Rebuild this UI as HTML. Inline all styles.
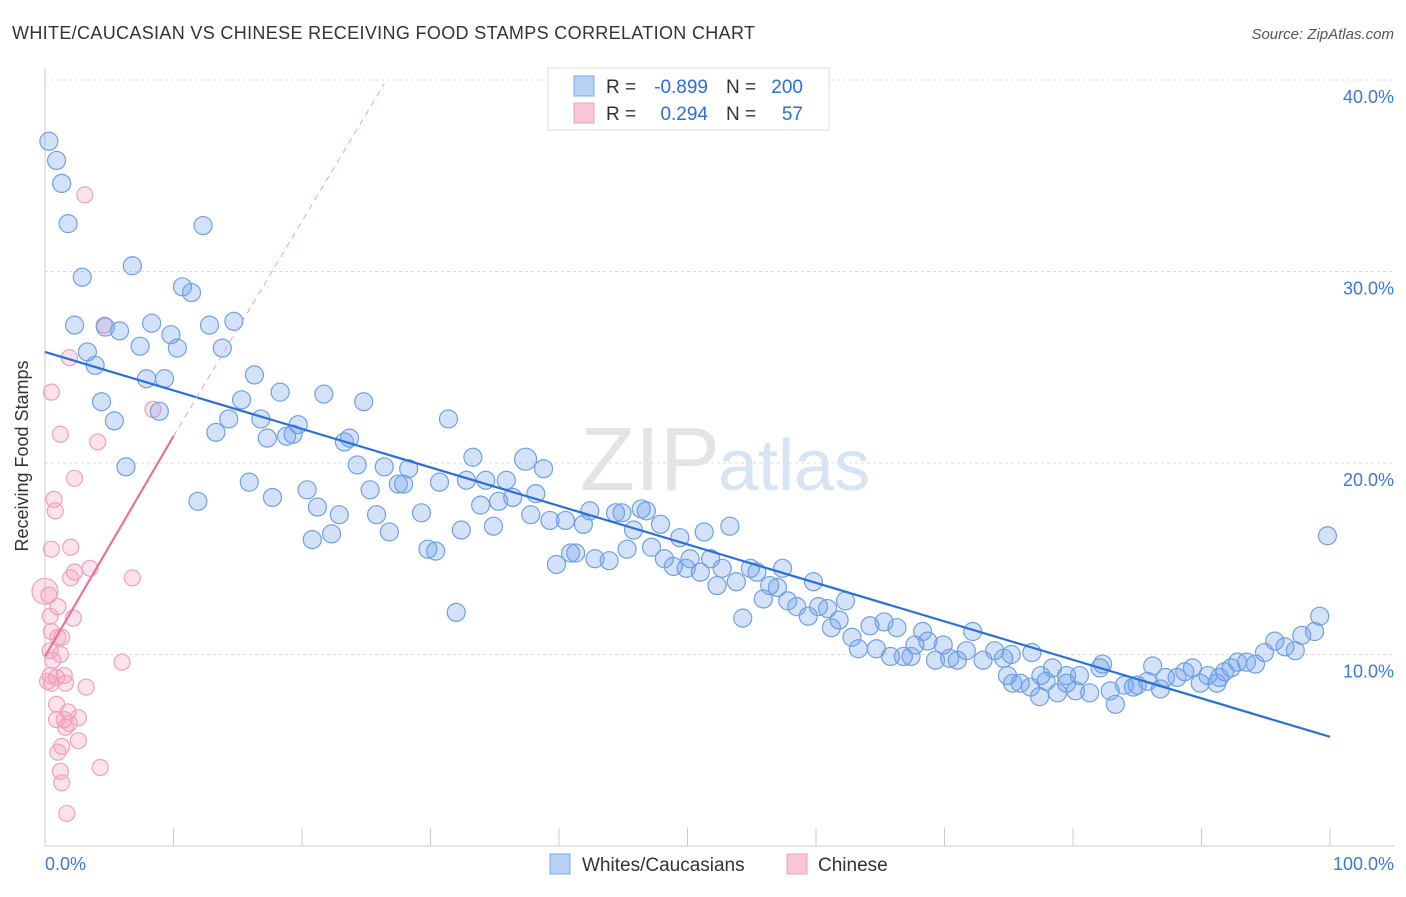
<!DOCTYPE html>
<html><head><meta charset="utf-8"><style>
body{margin:0;background:#fff;font-family:"Liberation Sans",sans-serif;}
svg text{font-family:"Liberation Sans",sans-serif;}
</style></head><body>
<svg width="1406" height="892" viewBox="0 0 1406 892" xmlns="http://www.w3.org/2000/svg">
<text x="12" y="39" font-size="18" fill="#333" textLength="743">WHITE/CAUCASIAN VS CHINESE RECEIVING FOOD STAMPS CORRELATION CHART</text>
<text x="1394" y="39" font-size="15" fill="#555" text-anchor="end" font-style="italic">Source: ZipAtlas.com</text>
<g id="grid"></g>
<text x="720" y="490" font-size="90" fill="#e4e4e4" text-anchor="end" font-family="Liberation Serif">ZIP</text>
<text x="718" y="490" font-size="72" fill="#d6e4f5">atlas</text>
<g id="ticks"></g>
<text x="28" y="456" font-size="18" fill="#333" text-anchor="middle" transform="rotate(-90 28 456)">Receiving Food Stamps</text>
<g id="pink"></g>
<g id="blue"></g>
<g id="trends"></g>
<g>
<rect x="548" y="68" width="281" height="62" fill="#fff" stroke="#ddd"/>
<rect x="574" y="76" width="20" height="20" fill="#b8d3f5" stroke="#7aaae6"/>
<rect x="574" y="103" width="20" height="20" fill="#f9c6d6" stroke="#f0a0bb"/>
<text x="606" y="93" font-size="19" fill="#333">R =</text>
<text x="708" y="93" font-size="19" fill="#2a6ed8" text-anchor="end">-0.899</text>
<text x="726" y="93" font-size="19" fill="#333">N =</text>
<text x="803" y="93" font-size="19" fill="#2a6ed8" text-anchor="end">200</text>
<text x="606" y="120" font-size="19" fill="#333">R =</text>
<text x="708" y="120" font-size="19" fill="#2a6ed8" text-anchor="end">0.294</text>
<text x="726" y="120" font-size="19" fill="#333">N =</text>
<text x="803" y="120" font-size="19" fill="#2a6ed8" text-anchor="end">57</text>
</g>
<g>
<rect x="550" y="854" width="20" height="20" fill="#b8d3f5" stroke="#7aaae6"/>
<text x="582" y="871" font-size="19" fill="#333">Whites/Caucasians</text>
<rect x="787" y="854" width="20" height="20" fill="#f9c6d6" stroke="#f0a0bb"/>
<text x="818" y="871" font-size="19" fill="#333">Chinese</text>
</g>
<text x="45" y="870" font-size="18" fill="#3b78d8">0.0%</text>
<text x="1394" y="870" font-size="18" fill="#3b78d8" text-anchor="end">100.0%</text>
</svg>
<script>
const yTicks=[10,20,30,40];
const yTickLabels=["10.0%","20.0%","30.0%","40.0%"];
const xTicks=[0,10,20,30,40,50,60,70,80,90,100];
const blueX=[0.3,0.9,1.3,1.8,2.9,6.8,12.3,10.7,11.4,2.3,4.7,5.8,8.3,9.8,12.8,14.7,3.3,7.4,10.3,13.8,3.9,7.9,9.3,16.3,4.4,8.9,5.4,15.3,18.3,21.7,24.8,14.3,16.8,19.7,31.4,13.3,17.3,18.8,19.3,23.3,23.7,6.3,15.9,11.9,17.7,20.4,24.3,25.3,26.4,27.5,27.9,28.3,30.7,33.3,32.8,34.3,35.9,37.4,38.8,38.2,36.4,35.3,33.9,21.2,22.9,25.8,29.3,37.8,39.3,40.5,41.9,42.4,44.4,44.9,46.4,46.8,45.8,47.9,51.3,53.3,32.4,34.9,20.8,22.3,26.8,29.8,30.4,45.3,47.2,49.4,40.9,41.3,42.8,43.9,39.8,48.2,50.2,51.8,48.9,49.9,51.0,52.7,54.9,55.4,57.4,52.3,53.8,56.4,57.0,59.8,55.9,57.8,58.5,60.2,60.9,62.3,59.4,61.8,64.2,65.3,66.3,54.3,61.2,62.8,68.3,72.2,63.3,64.7,67.7,68.7,69.9,71.7,73.9,76.8,65.8,66.8,67.4,69.3,70.4,71.0,73.0,74.6,75.2,78.4,82.1,82.3,74.9,77.5,79.5,80.5,75.3,75.9,77.9,79.5,86.2,88.7,89.3,90.5,91.8,92.3,92.8,93.5,94.2,94.9,95.7,96.5,97.3,97.8,98.8,99.2,99.8,76.7,78.8,77.4,80.2,81.3,82.9,84.0,85.0,85.8,86.8,87.2,88.1,89.9,91.2,83.3,84.7,91.4,32.0];
const blueY=[36.8,35.8,34.6,32.5,29.7,30.3,32.4,29.2,28.9,27.2,27.1,26.9,27.3,26.7,27.2,27.4,25.8,26.1,26.0,26.0,25.1,24.4,24.4,24.6,23.2,22.7,22.2,23.3,23.7,23.6,23.2,22.3,22.3,22.0,22.3,21.6,21.3,21.4,21.5,21.1,21.3,19.8,19.0,18.0,18.2,18.6,19.9,18.6,19.8,18.9,18.9,19.7,19.0,20.3,19.1,19.1,19.1,20.2,19.7,18.4,18.2,18.0,17.8,17.7,17.3,17.3,17.4,17.3,17.0,17.0,16.8,17.5,17.4,17.4,17.6,17.5,16.5,16.8,16.4,16.7,16.5,16.7,16.0,16.3,16.4,15.5,15.4,15.5,15.6,16.1,15.3,15.3,15.0,14.9,14.7,15.0,15.0,15.0,14.6,14.5,14.3,14.5,14.5,14.3,14.5,13.6,13.8,13.6,13.5,13.8,12.9,12.8,12.5,12.5,12.4,12.8,12.0,11.8,11.5,11.7,11.4,11.9,11.4,10.9,11.2,11.2,10.3,10.3,10.5,10.7,10.5,10.2,10.2,10.1,9.9,9.9,9.9,9.7,9.8,9.7,9.7,9.8,10.0,9.3,9.3,9.5,8.9,8.9,8.9,8.9,8.5,8.5,8.6,8.5,9.4,9.1,9.3,8.9,9.1,9.3,9.6,9.6,9.5,10.1,10.7,10.4,10.2,11.0,11.2,12.0,16.2,8.3,8.0,7.8,8.1,8.0,8.1,8.4,8.4,8.6,8.2,8.8,8.8,8.5,8.5,7.4,8.3,8.8,12.2];
const pinkX=[3.1,4.6,1.9,0.5,8.4,1.2,4.1,2.3,0.7,0.8,2.0,0.5,2.3,2.0,3.5,6.8,0.0,0.3,1.0,0.4,2.2,0.5,1.0,1.3,0.4,1.2,0.6,6.0,0.4,0.9,1.5,0.2,0.5,1.6,3.2,0.9,1.8,2.6,0.9,1.5,1.9,1.6,2.6,1.3,1.0,4.3,1.2,1.3,1.7];
const pinkY=[34.0,27.2,25.5,23.7,22.8,21.5,21.1,19.2,18.1,17.5,15.6,15.5,14.3,14.0,14.5,14.0,13.3,13.1,12.5,12.0,11.9,11.2,10.9,10.9,10.2,10.0,9.7,9.6,8.9,8.8,8.9,8.6,8.5,8.5,8.3,7.4,7.0,6.7,6.6,6.6,6.4,6.2,5.5,5.2,4.9,4.1,3.9,3.3,1.7];
const blueTrend=[0,25.8,100,5.7];
const pinkTrend=[0,9.9,10,21.4];
const pinkDashEnd=[26.4,39.8];
const NS="http://www.w3.org/2000/svg";
const X=v=>45+v*12.85, Y=v=>846-v*19.15;
function mk(t,a,p){const e=document.createElementNS(NS,t);for(const k in a)e.setAttribute(k,a[k]);p.appendChild(e);return e;}
const grid=document.getElementById('grid');
yTicks.forEach((t,i)=>{
 const l=mk('line',{x1:45,x2:1394,y1:Y(t),y2:Y(t),stroke:'#dcdcdc','stroke-dasharray':'3,3'},grid);
 
 
 const tx=mk('text',{x:1394,y:Y(t)+23,'font-size':18,fill:'#3b78d8','text-anchor':'end'},grid);
 tx.textContent=yTickLabels[i];
 
 
});
const tk=document.getElementById('ticks');
mk('line',{x1:45,x2:1394,y1:846,y2:846,stroke:'#ccc'},tk);
mk('line',{x1:45,x2:45,y1:68,y2:846,stroke:'#ccc'},tk);
xTicks.forEach(t=>{const l=mk('line',{x1:X(t),x2:X(t),y1:828,y2:846,stroke:'#ccc'},tk);
 
 });
const pg=document.getElementById('pink');
pinkX.forEach((v,i)=>{const c=mk('circle',{cx:X(v),cy:Y(pinkY[i]),r:(i==16?13:8),fill:'rgba(244,160,190,0.3)',stroke:'#f0a0bb','stroke-width':1.2},pg);
 
 });
const bg=document.getElementById('blue');
blueX.forEach((v,i)=>{const c=mk('circle',{cx:X(v),cy:Y(blueY[i]),r:(i==57?11:9),fill:'rgba(110,160,235,0.3)',stroke:'#6fa0e4','stroke-width':1.2},bg);
 
 });
const tr=document.getElementById('trends');
const a=mk('line',{x1:X(blueTrend[0]),y1:Y(blueTrend[1]),x2:X(blueTrend[2]),y2:Y(blueTrend[3]),stroke:'#2a70d8','stroke-width':2.2},tr);


const d=mk('line',{x1:X(pinkTrend[2]),y1:Y(pinkTrend[3]),x2:X(pinkDashEnd[0]),y2:Y(pinkDashEnd[1]),stroke:'#f0a0bb','stroke-width':1,'stroke-dasharray':'6,5'},tr);


const b=mk('line',{x1:X(pinkTrend[0]),y1:Y(pinkTrend[1]),x2:X(pinkTrend[2]),y2:Y(pinkTrend[3]),stroke:'#e8739a','stroke-width':2.2},tr);


</script>
</body></html>
